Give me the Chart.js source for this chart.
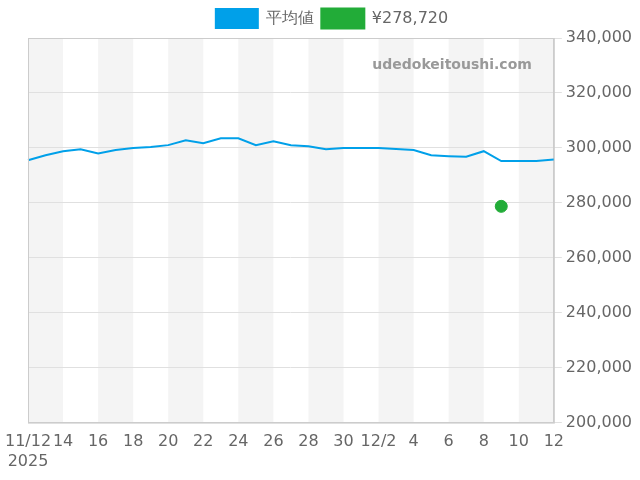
<!DOCTYPE html>
<html><head><meta charset="utf-8">
<script src="https://cdn.jsdelivr.net/npm/chart.js"></script>
<style>body{margin:0}#w{width:640px;height:480px}</style></head>
<body><div id="w"><canvas id="c"></canvas></div>
<script>
const dates=["11/12","11/13","11/14","11/15","11/16","11/17","11/18","11/19","11/20","11/21","11/22","11/23","11/24","11/25","11/26","11/27","11/28","11/29","11/30","12/1","12/2","12/3","12/4","12/5","12/6","12/7","12/8","12/9","12/10","12/11","12/12"];
const tickLabels=["11/12","14","16","18","20","22","24","26","28","30","12/2","4","6","8","10","12"];
const avgValues=[295500,297300,298800,299500,298000,299200,300000,300300,301000,302800,301700,303500,303500,301000,302400,301000,300600,299500,300000,300000,300000,299600,299200,297300,297000,296800,298800,295200,295200,295200,295800];
const priceValues=dates.map(d=>d==="12/9"?278720:null);
const bands={id:'bands',beforeDraw(ch){const {ctx,chartArea:a,scales:{x}}=ch;ctx.save();ctx.fillStyle='#f4f4f4';
for(let i=0;i<dates.length-1;i+=4){const x1=x.getPixelForValue(i),x2=x.getPixelForValue(Math.min(i+2,dates.length-1));ctx.fillRect(x1,a.top,x2-x1,a.bottom-a.top);}
ctx.restore();},
afterDraw(ch){const {ctx,chartArea:a}=ch;ctx.save();ctx.strokeStyle='#ccc';ctx.lineWidth=1;ctx.strokeRect(a.left+0.5,a.top+0.5,a.right-a.left,a.bottom-a.top);
ctx.fillStyle='#999';ctx.font='bold 14px "DejaVu Sans"';ctx.textAlign='right';ctx.textBaseline='middle';ctx.fillText('udedokeitoushi.com',a.right-22,65);ctx.restore();}};
new Chart(document.getElementById('c'),{type:'line',data:{labels:dates,datasets:[
{label:'平均値',data:avgValues,borderColor:'#00a0e9',backgroundColor:'#00a0e9',borderWidth:2,pointRadius:0,tension:0},
{label:'¥278,720',data:priceValues,borderColor:'#22ac38',backgroundColor:'#22ac38',pointRadius:6,showLine:false}]},
options:{responsive:true,maintainAspectRatio:false,animation:false,
layout:{padding:{left:28,right:4,top:1,bottom:7}},
plugins:{legend:{labels:{boxWidth:42,boxHeight:19,padding:8,font:{size:16,family:'"DejaVu Sans"'},color:'#666'}},tooltip:{enabled:false}},
scales:{x:{offset:false,grid:{display:false},border:{color:'#ccc'},ticks:{autoSkip:false,maxRotation:0,padding:2,font:{size:16,family:'"DejaVu Sans"'},color:'#666',
callback:(v,i)=>{if(i%2)return '';const t=tickLabels[i/2];return i===0?[t,'2025']:t;}}},
y:{position:'right',min:200000,max:340000,border:{color:'#ccc'},grid:{color:'#e0e0e0'},ticks:{stepSize:20000,padding:4,font:{size:16,family:'"DejaVu Sans"'},color:'#666',callback:v=>v.toLocaleString('en-US')}}}},
plugins:[bands]});
</script></body></html>
